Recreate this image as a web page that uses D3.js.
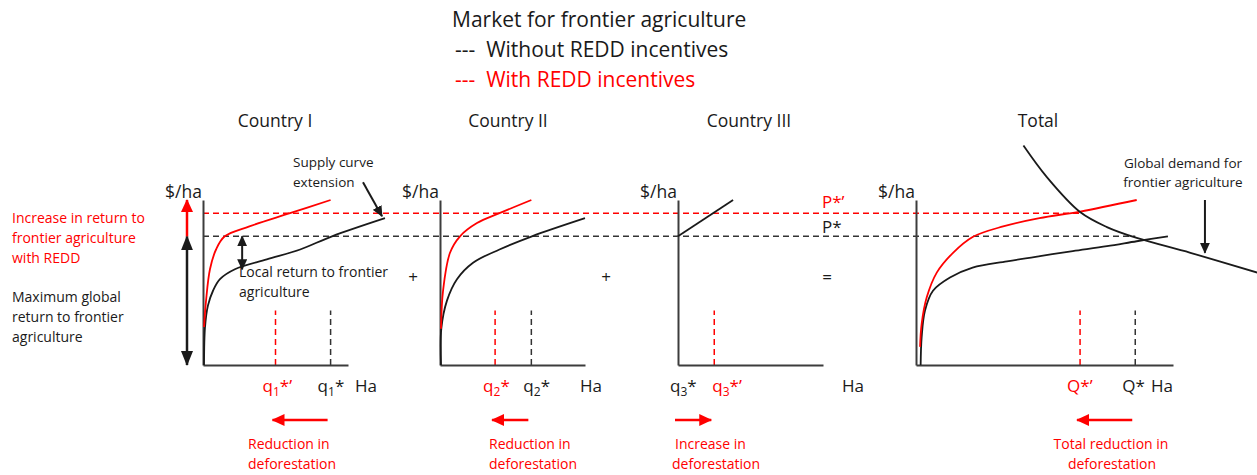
<!DOCTYPE html>
<html>
<head>
<meta charset="utf-8">
<script src="https://cdn.jsdelivr.net/npm/d3@7"></script>
<style>
    body { margin: 0; background: #fff; }
    svg { font-family: "Open Sans", sans-serif; }
    text { white-space: pre; }
</style>
</head>
<body>
<svg id="chart" width="1257" height="475"></svg>
<script>
// 价格 (all panels share one price scale)
var pStar = 78,      // without REDD
    pStarR = 92;     // with REDD

// equilibrium quantities per panel: Country I, II, III, Total
var qStar  = [88, 63, 0, 151];
var qStarR = [50, 38, 25, 113];

var titles = ['Country I', 'Country II', 'Country III', 'Total'];

// supply curves [q, p]
var supply1  = [[0.7, 0], [1.4, 23], [3.4, 36], [6.9, 45], [11.7, 52], [22, 58], [44, 64], [67, 70], [89, 78], [125.5, 89]];
var supply1R = [[0.7, 23], [2.1, 39], [4.8, 58], [9, 70], [15, 78], [32, 84], [60, 92], [88, 100]];
var supply2  = [[0.7, 0], [0.9, 22], [4.8, 39], [11.7, 52], [22.8, 62], [41, 70], [63.4, 78], [100, 89]];
var supply2R = [[0.7, 22], [2.1, 45], [6.9, 68], [13.8, 78], [25.5, 86], [41, 92], [63, 100]];
var supply3  = [[0, 78], [38, 100]];
var supplyT  = [[3.2, 0], [3.9, 17], [6.2, 33], [11.7, 45], [23.4, 53], [39, 59], [62.7, 62.8], [85.4, 66], [108, 69], [131.5, 72], [152, 75], [173.5, 78]];
var supplyTR = [[2.8, 11], [3.9, 25], [7.4, 41], [14.3, 56], [25.5, 68], [39, 77.6], [60, 84], [85, 89], [113, 93], [152, 100]];
var demandT  = [[74, 133], [90, 114], [113, 92.7], [131.5, 83.6], [152, 77], [189, 68], [235, 56]];

// 布局
var layout = [
    {x0: 203, w: 145, qMax: 100, titleX: 275, haX: 355},
    {x0: 440, w: 145, qMax: 100, titleX: 508, haX: 580},
    {x0: 678, w: 145, qMax: 100, titleX: 749, haX: 842},
    {x0: 916, w: 257, qMax: 177, titleX: 1038, haX: 1151}
];
var RED = '#ff0000', BLACK = '#1a1a1a', AXIS = '#3c3c3c';

var svg = d3.select('#chart');
var y = d3.scaleLinear().domain([0, 100]).range([365, 200]);
var xs = layout.map(function (d) {
    return d3.scaleLinear().domain([0, d.qMax]).range([d.x0, d.x0 + d.w]);
});

// arrow markers
var defs = svg.append('defs');
function marker(id, color, len, wid) {
    defs.append('marker')
        .attr('id', id)
        .attr('markerUnits', 'userSpaceOnUse')
        .attr('viewBox', '0 0 ' + len + ' ' + wid)
        .attr('markerWidth', len)
        .attr('markerHeight', wid)
        .attr('refX', len - 1)
        .attr('refY', wid / 2)
        .attr('orient', 'auto-start-reverse')
        .append('path')
        .attr('d', 'M0,0L' + len + ',' + (wid / 2) + 'L0,' + wid + 'Z')
        .attr('fill', color);
}
marker('hBlack', BLACK, 15, 12);
marker('hBlackS', BLACK, 11, 10);
marker('hRed', RED, 13, 12);

function arrow(x1, y1, x2, y2, color, head, both, width) {
    var l = svg.append('line')
        .attr('x1', x1).attr('y1', y1).attr('x2', x2).attr('y2', y2)
        .attr('stroke', color)
        .attr('stroke-width', width || 2.5)
        .attr('marker-end', 'url(#' + head + ')');
    if (both) l.attr('marker-start', 'url(#' + head + ')');
}

// horizontal price lines
svg.append('line')
    .attr('x1', xs[0](0)).attr('x2', xs[3](qStar[3]))
    .attr('y1', y(pStar)).attr('y2', y(pStar))
    .attr('stroke', '#333').attr('stroke-width', 1.5).attr('stroke-dasharray', '6,4');
svg.append('line')
    .attr('x1', xs[0](0)).attr('x2', xs[3](qStarR[3]))
    .attr('y1', y(pStarR)).attr('y2', y(pStarR))
    .attr('stroke', RED).attr('stroke-width', 1.5).attr('stroke-dasharray', '6,4');

// panels
layout.forEach(function (d, i) {
    var x = xs[i];
    var g = svg.append('g');

    // quantity markers
    [[qStar[i], '#333'], [qStarR[i], RED]].forEach(function (m) {
        if (m[0] === 0) return;
        g.append('line')
            .attr('x1', x(m[0])).attr('x2', x(m[0]))
            .attr('y1', y(0)).attr('y2', y(33))
            .attr('stroke', m[1]).attr('stroke-width', 1.5).attr('stroke-dasharray', '6,4');
    });

    // axes
    g.append('g').attr('transform', 'translate(0,' + y(0) + ')')
        .call(d3.axisBottom(x).tickValues([]).tickSizeOuter(0));
    g.append('g').attr('transform', 'translate(' + d.x0 + ',0)')
        .call(d3.axisLeft(y).tickValues([]).tickSizeOuter(0));

    g.append('text').attr('x', d.titleX).attr('y', 127)
        .attr('text-anchor', 'middle').attr('font-size', 17.5).attr('fill', BLACK)
        .text(titles[i]);
    g.append('text').attr('x', d.x0 - 1).attr('y', 198)
        .attr('text-anchor', 'end').attr('font-size', 17.5).attr('fill', BLACK)
        .text('$/ha');
    g.append('text').attr('x', d.haX).attr('y', 392)
        .attr('font-size', 17).attr('fill', BLACK)
        .text('Ha');

    // reduction / increase arrows
    arrow(x(qStar[i]) - 3, 420, x(qStarR[i]) - 3, 420, RED, 'hRed');
});
svg.selectAll('.domain').attr('stroke', AXIS).attr('stroke-width', 2);

// curves
var curves = [
    [0, supply1, BLACK], [0, supply1R, RED],
    [1, supply2, BLACK], [1, supply2R, RED],
    [2, supply3, BLACK],
    [3, supplyT, BLACK], [3, supplyTR, RED], [3, demandT, BLACK]
];
curves.forEach(function (c) {
    var line = d3.line()
        .x(function (d) { return xs[c[0]](d[0]); })
        .y(function (d) { return y(d[1]); })
        .curve(d3.curveCatmullRom.alpha(0.5));
    svg.append('path')
        .attr('d', line(c[1]))
        .attr('fill', 'none')
        .attr('stroke', c[2])
        .attr('stroke-width', 1.8);
});

// left-hand arrows
arrow(187, y(pStar), 187, y(0), BLACK, 'hBlack', true, 2.5);
arrow(187, y(pStar), 187, y(100), RED, 'hRed', false, 2.5);
arrow(xs[0](27), y(pStar), xs[0](27), y(58), BLACK, 'hBlackS', true, 2);
// supply curve extension
arrow(xs[0](125.5) - 22, y(89) - 36, xs[0](125.5) - 3, y(89) - 2, BLACK, 'hBlackS', false, 2);
// global demand
arrow(xs[3](199), y(100), xs[3](199), y(68), BLACK, 'hBlackS', false, 2);

// axis quantity labels
function qLabel(x, parts, color) {
    var t = svg.append('text').attr('x', x).attr('y', 392)
        .attr('font-size', 17).attr('fill', color);
    var off = 0;
    parts.forEach(function (p) {
        var target = p[1] === 'sub' ? 4 : 0;
        t.append('tspan')
            .attr('dy', target - off)
            .attr('font-size', p[1] === 'sub' ? 12 : 17)
            .text(p[0]);
        off = target;
    });
}
var prime = '*\u2019';
qLabel(xs[0](qStarR[0]) - 13, [['q'], ['1', 'sub'], [prime]], RED);
qLabel(xs[0](qStar[0]) - 13, [['q'], ['1', 'sub'], ['*']], BLACK);
qLabel(xs[1](qStarR[1]) - 12, [['q'], ['2', 'sub'], ['*']], RED);
qLabel(xs[1](qStar[1]) - 8, [['q'], ['2', 'sub'], ['*']], BLACK);
qLabel(xs[2](qStar[2]) - 8, [['q'], ['3', 'sub'], ['*']], BLACK);
qLabel(xs[2](qStarR[2]) - 2, [['q'], ['3', 'sub'], [prime]], RED);
qLabel(xs[3](qStarR[3]) - 13, [['Q'], [prime]], RED);
qLabel(xs[3](qStar[3]) - 13, [['Q'], ['*']], BLACK);

// texts
var notes = [
    {x: 452, y: 27, s: 21, c: BLACK, t: 'Market for frontier agriculture'},
    {x: 455, y: 57, s: 21, c: BLACK, t: '---  Without REDD incentives'},
    {x: 455, y: 87, s: 21, c: RED, t: '---  With REDD incentives'},
    {x: 12, y: 223, s: 14, c: RED, t: 'Increase in return to'},
    {x: 12, y: 243, s: 14, c: RED, t: 'frontier agriculture'},
    {x: 12, y: 263, s: 14, c: RED, t: 'with REDD'},
    {x: 12, y: 302, s: 14, c: BLACK, t: 'Maximum global'},
    {x: 12, y: 322, s: 14, c: BLACK, t: 'return to frontier'},
    {x: 12, y: 342, s: 14, c: BLACK, t: 'agriculture'},
    {x: 293, y: 167, s: 13.5, c: BLACK, t: 'Supply curve'},
    {x: 293, y: 187, s: 13.5, c: BLACK, t: 'extension'},
    {x: 239, y: 277, s: 14, c: BLACK, t: 'Local return to frontier'},
    {x: 239, y: 297, s: 14, c: BLACK, t: 'agriculture'},
    {x: 1183, y: 168, s: 13.5, c: BLACK, t: 'Global demand for', a: 'middle'},
    {x: 1183, y: 187, s: 13.5, c: BLACK, t: 'frontier agriculture', a: 'middle'},
    {x: 822, y: 208, s: 17, c: RED, t: 'P*\u2019'},
    {x: 822, y: 233, s: 17, c: BLACK, t: 'P*'},
    {x: 413, y: 283, s: 17, c: BLACK, t: '+', a: 'middle'},
    {x: 606, y: 283, s: 17, c: BLACK, t: '+', a: 'middle'},
    {x: 827, y: 283, s: 17, c: BLACK, t: '=', a: 'middle'},
    {x: 248, y: 449, s: 14, c: RED, t: 'Reduction in'},
    {x: 248, y: 469, s: 14, c: RED, t: 'deforestation'},
    {x: 489, y: 449, s: 14, c: RED, t: 'Reduction in'},
    {x: 489, y: 469, s: 14, c: RED, t: 'deforestation'},
    {x: 675, y: 449, s: 14, c: RED, t: 'Increase in'},
    {x: 672, y: 469, s: 14, c: RED, t: 'deforestation'},
    {x: 1111, y: 449, s: 14, c: RED, t: 'Total reduction in', a: 'middle'},
    {x: 1112, y: 469, s: 14, c: RED, t: 'deforestation', a: 'middle'}
];
svg.selectAll('text.note')
    .data(notes)
    .enter()
    .append('text')
    .attr('class', 'note')
    .attr('x', function (d) { return d.x; })
    .attr('y', function (d) { return d.y; })
    .attr('font-size', function (d) { return d.s; })
    .attr('fill', function (d) { return d.c; })
    .attr('text-anchor', function (d) { return d.a || 'start'; })
    .text(function (d) { return d.t; });
</script>
</body>
</html>
